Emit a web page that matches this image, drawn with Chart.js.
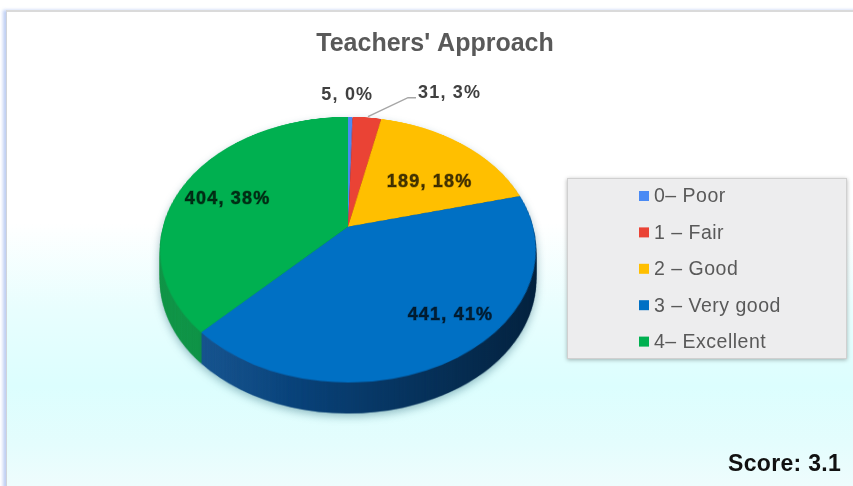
<!DOCTYPE html>
<html lang="en">
  <head>
    <meta charset="UTF-8" />
    <title>Teachers' Approach</title>
    <script src="https://cdn.jsdelivr.net/npm/chart.js"></script>
    <style>
      html, body { margin: 0; padding: 0; background: #fff; overflow: hidden; }
      .frame {
        position: absolute; left: 6px; top: 10px; width: 860px; height: 480px;
        border-top: 2px solid #dadada; border-left: 1px solid #cfd3da;
        background: linear-gradient(to bottom, #ffffff 0%, #ffffff 44%, #e8fefe 62%, #dcfefe 78%, #e4fdfd 90%, #f0fcfd 100%);
        box-shadow: -3px 0 3px rgba(140, 170, 235, 0.55);
      }
      #pie { position: absolute; left: 0; top: 0; }
    </style>
  </head>
  <body>
    <div class="frame"></div>
    <canvas id="pie" width="853" height="486"></canvas>
    <script>
      const categories = ["0\u2013 Poor", "1 \u2013 Fair", "2 \u2013 Good", "3 \u2013 Very good", "4\u2013 Excellent"];
      const responses = [5, 31, 189, 441, 404];
      const chartTitle = "Teachers' Approach";
      const scoreLabel = "Score: 3.1";

      const topColors = ["#4a8af4", "#ea4335", "#ffbf00", "#0070c4", "#00b050"];
      const wallColors = ["#2c5fb5", "#a3281d", "#bf8a00", "#0b4d8c", "#00913f"];

      // perspective of the pie top: ellipse centre / half height, tilt and wall depth
      const tilt = 0.173;
      const ellY = 250;
      const ellRy = 133;
      const depth = 31;
      // small nudges for the in-slice labels (px)
      const labelNudge = [[0, 0], [0, 0], [0, 14], [31, 2], [-7, 4]];

      const total = responses.reduce((a, b) => a + b, 0);

      const geo = (chart) => {
        const arcs = chart.getDatasetMeta(0).data;
        const p = arcs[0].getProps(["x", "y", "outerRadius"], true);
        return { arcs, cx: p.x, cy: p.y, R: p.outerRadius };
      };

      // circle point -> perspective point
      const project = (g, xs, ys) => {
        const v = (ys - g.cy) / g.R;
        const t = (v - tilt) / (1 - tilt * v);
        const s = (1 + tilt * t) / Math.sqrt(1 - tilt * tilt);
        return { x: g.cx + (xs - g.cx) * s, y: ellY + t * ellRy };
      };

      const pie3d = {
        id: "pie3d",
        beforeDatasetsDraw(chart) {
          const g = geo(chart);
          const { cx, cy, R } = g;
          const W = chart.width, H = chart.height;
          const mk = () => {
            const c = document.createElement("canvas");
            c.width = W; c.height = H;
            return c;
          };
          const topC = mk(), wallC = mk(), layer = mk();
          const tctx = topC.getContext("2d");
          g.arcs.forEach((a) => a.draw(tctx));
          const wctx = wallC.getContext("2d");
          g.arcs.forEach((a, i) => {
            const p = a.getProps(["x", "y", "startAngle", "endAngle", "outerRadius"], true);
            wctx.fillStyle = wallColors[i];
            wctx.beginPath();
            wctx.moveTo(p.x, p.y);
            wctx.arc(p.x, p.y, p.outerRadius, p.startAngle, p.endAngle);
            wctx.closePath();
            wctx.fill();
          });

          const warp = (src, dst, dy) => {
            for (let yd = Math.ceil(ellY - ellRy); yd <= Math.floor(ellY + ellRy); yd++) {
              const t = (yd + 0.5 - ellY) / ellRy;
              if (t < -1 || t > 1) continue;
              const v = (t + tilt) / (1 + tilt * t);
              const s = (1 + tilt * t) / Math.sqrt(1 - tilt * tilt);
              const sy = cy + v * R;
              dst.drawImage(src, cx - R - 2, sy, 2 * R + 4, 1, cx - (R + 2) * s, yd + dy, (2 * R + 4) * s, 1);
            }
          };

          const lctx = layer.getContext("2d");
          for (let d = depth; d >= 1; d--) warp(wallC, lctx, d);
          lctx.globalCompositeOperation = "source-atop";
          const shade = lctx.createLinearGradient(cx - R, 0, cx + R, 0);
          shade.addColorStop(0, "rgba(255,255,255,0.06)");
          shade.addColorStop(0.35, "rgba(0,0,0,0.12)");
          shade.addColorStop(1, "rgba(0,0,0,0.55)");
          lctx.fillStyle = shade;
          lctx.fillRect(0, 0, W, H);

          const ctx = chart.ctx;
          ctx.save();
          ctx.shadowColor = "rgba(0,70,90,0.35)";
          ctx.shadowBlur = 9;
          ctx.shadowOffsetY = 3;
          ctx.drawImage(layer, 0, 0);
          ctx.restore();
          warp(topC, ctx, 0);
          return false;
        },
        afterDraw(chart) {
          const g = geo(chart);
          const ctx = chart.ctx;
          ctx.save();

          // title
          ctx.fillStyle = "#595959";
          ctx.font = "bold 25px 'Liberation Sans', Arial, sans-serif";
          ctx.textAlign = "center";
          ctx.textBaseline = "middle";
          ctx.fillText(chartTitle, 435, 44);

          // data labels
          ctx.font = "bold 18px 'Liberation Sans', Arial, sans-serif";
          ctx.letterSpacing = "1.2px";
          const smalls = [];
          g.arcs.forEach((a, i) => {
            const p = a.getProps(["startAngle", "endAngle"], true);
            const mid = (p.startAngle + p.endAngle) / 2;
            const pct = Math.round((responses[i] / total) * 100);
            const text = responses[i] + ", " + pct + "%";
            if (pct < 5) {
              const edge = project(g, g.cx + Math.cos(mid) * g.R, g.cy + Math.sin(mid) * g.R);
              smalls.push({ edge, text });
              return;
            }
            const q = project(g, g.cx + Math.cos(mid) * g.R * 0.69, g.cy + Math.sin(mid) * g.R * 0.69);
            const x = q.x + labelNudge[i][0], y = q.y + labelNudge[i][1];
            ctx.textAlign = "center";
            ctx.lineWidth = 1;
            ctx.strokeStyle = "rgba(0,0,0,0.35)";
            ctx.strokeText(text, x, y);
            ctx.fillStyle = "rgba(0,0,0,0.72)";
            ctx.fillText(text, x, y);
          });
          ctx.fillStyle = "#404040";
          smalls.forEach((s, k) => {
            const e = s.edge;
            if (k === 0) {
              ctx.textAlign = "right";
              ctx.fillText(s.text, e.x + 23, e.y - 22);
            } else {
              ctx.strokeStyle = "#a6a6a6";
              ctx.lineWidth = 1.5;
              ctx.beginPath();
              ctx.moveTo(e.x + 1, e.y - 1);
              ctx.lineTo(e.x + 41, e.y - 20);
              ctx.lineTo(e.x + 49, e.y - 20);
              ctx.stroke();
              ctx.textAlign = "left";
              ctx.fillText(s.text, e.x + 51, e.y - 25);
            }
          });
          ctx.letterSpacing = "0px";

          // legend box
          const bx = 567, by = 178, bw = 280, bh = 181;
          ctx.save();
          ctx.shadowColor = "rgba(0,0,0,0.3)";
          ctx.shadowBlur = 4;
          ctx.shadowOffsetY = 1;
          ctx.fillStyle = "#ededee";
          ctx.fillRect(bx, by, bw, bh);
          ctx.restore();
          ctx.strokeStyle = "#d0d0d0";
          ctx.lineWidth = 1;
          ctx.strokeRect(bx + 0.5, by + 0.5, bw - 1, bh - 1);
          ctx.font = "19.5px 'Liberation Sans', Arial, sans-serif";
          ctx.letterSpacing = "0.5px";
          ctx.textAlign = "left";
          ctx.textBaseline = "middle";
          chart.data.labels.forEach((lab, i) => {
            const y = 196 + i * 36.4;
            ctx.fillStyle = chart.data.datasets[0].backgroundColor[i];
            ctx.fillRect(639, y - 5, 10, 10);
            ctx.fillStyle = "#595959";
            ctx.fillText(lab, 654, y + 1);
          });

          // score
          ctx.font = "bold 23px 'Liberation Sans', Arial, sans-serif";
          ctx.letterSpacing = "0.3px";
          ctx.fillStyle = "#111";
          ctx.textAlign = "right";
          ctx.fillText(scoreLabel, 841, 465);
          ctx.restore();
        },
      };

      const ctx = document.getElementById("pie").getContext("2d");
      const pieChart = new Chart(ctx, {
        type: "pie",
        data: {
          labels: categories,
          datasets: [
            {
              data: responses,
              backgroundColor: topColors,
              borderWidth: 0,
            },
          ],
        },
        options: {
          responsive: false,
          animation: false,
          events: [],
          layout: {
            padding: { left: 160, right: 317, top: 40, bottom: 70 },
          },
          plugins: {
            legend: { display: false },
            tooltip: { enabled: false },
            title: { display: false },
          },
        },
        plugins: [pie3d],
      });
    </script>
  </body>
</html>
